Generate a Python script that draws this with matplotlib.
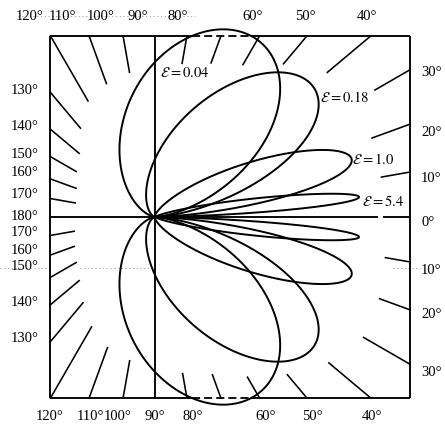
import numpy as np
import matplotlib.pyplot as plt

plt.rcParams['font.family'] = ['Liberation Serif', 'DejaVu Serif']
plt.rcParams['mathtext.fontset'] = 'stix'

# electron energies and the direction of maximum emission of each lobe (deg)
energies = ['0.04', '0.18', '1.0', '5.4']
peak_deg = [62.0, 40.0, 16.5, 5.6]
lobe_reach = 205.0

# frame around the pattern, origin where the 0 and 90 degree lines cross
left, right, bottom, top = -105, 255, -181, 181

# radial tick marks: direction and the radius where each mark starts
tick_angles = [120, 110, 100, 80, 70, 60, 50, 40, 30, 20, 10, -10, -20, -30,
               -40, -50, -60, -70, -80, -100, -110, -120, -130, -140, -150,
               -160, -170, 170, 160, 150, 140, 130]
tick_inner = [134, 142, 147, 156, 164, 176, 200, 225, 254, 231, 230, 234, 239, 241,
              227, 206, 185, 168, 159, 146, 139, 127, 112, 99, 91,
              86, 82, 81, 84, 91, 99, 116]

top_labels = ['120°', '110°', '100°', '90°', '80°', '60°', '50°', '40°']
top_x = [30, 62, 101, 138, 178, 253, 305, 367]
bottom_labels = ['120°', '110°', '100°', '90°', '80°', '60°', '50°', '40°']
bottom_x = [50, 90, 118, 155, 193, 266, 312, 372]
left_labels = ['130°', '140°', '150°', '160°', '170°', '180°', '170°', '160°',
               '150°', '140°', '130°']
left_y = [90, 127, 155, 172, 195, 216, 233, 250, 267, 303, 338]
right_labels = ['30°', '20°', '10°', '0°', '10°', '20°', '30°']
right_y = [72, 132, 178, 222, 270, 315, 373]
energy_pos = [(160, 73), (320, 98), (352, 160), (362, 201)]


def to_data(px, py):
    return px - 155, 217 - py


def lobe(peak):
    # sin^2 / (1 - beta cos)^4 pattern, beta chosen so the maximum sits at `peak`
    c = np.cos(np.radians(peak))
    beta = c / (2 - c * c)
    th = np.linspace(0, np.pi, 1500)
    f = np.sin(th) ** 2 / (1 - beta * np.cos(th)) ** 4
    r = lobe_reach * f / f.max()
    return r * np.cos(th), r * np.sin(th)


fig = plt.figure(figsize=(4.45, 4.25), dpi=100)
ax = fig.add_axes([0, 0, 1, 1])
ax.set_xlim(-155, 290)
ax.set_ylim(-208, 217)
ax.axis('off')

k = dict(color='black', lw=1.35, solid_capstyle='butt')

lobes = [lobe(p) for p in peak_deg]
for x, y in lobes:
    ax.plot(x, y, color='black', lw=1.4)
    ax.plot(x, -y, color='black', lw=1.4)

# the widest lobe pokes through the top and bottom edges; dash the edge there
x0, y0 = lobes[0]
out = x0[y0 > top]
xa, xb = out.min(), out.max()
for edge in (top, bottom):
    ax.plot([left, xa], [edge, edge], **k)
    ax.plot([xa, xb], [edge, edge], color='black', lw=1.3, dashes=(4.5, 2.2))
    ax.plot([xb, right], [edge, edge], **k)
ax.plot([left, left], [bottom, top], **k)
ax.plot([right, right], [bottom, top], **k)

# axis lines through the origin
ax.plot([0, 0], [bottom, top], **k)
ax.plot([left, 223], [0, 0], **k)
ax.plot([228, right], [0, 0], **k)

for a, r0 in zip(tick_angles, tick_inner):
    d = np.array([np.cos(np.radians(a)), np.sin(np.radians(a))])
    ts = []
    for lim, comp in ((right, d[0]), (left, d[0]), (top, d[1]), (bottom, d[1])):
        if abs(comp) > 1e-9 and lim / comp > 0:
            ts.append(lim / comp)
    t = min(ts)
    ax.plot([r0 * d[0], t * d[0]], [r0 * d[1], t * d[1]], color='black', lw=1.15)

fs = 10.5
for s, px in zip(top_labels, top_x):
    ax.text(*to_data(px, 16), s, ha='center', va='center', fontsize=fs)
for s, px in zip(bottom_labels, bottom_x):
    ax.text(*to_data(px, 416), s, ha='center', va='center', fontsize=fs)
for s, py in zip(left_labels, left_y):
    ax.text(*to_data(25, py), s, ha='center', va='center', fontsize=fs)
for s, py in zip(right_labels, right_y):
    ax.text(*to_data(421, py), s, ha='left', va='center', fontsize=fs)

for e, (px, py) in zip(energies, energy_pos):
    ax.text(*to_data(px, py), r'$\mathcal{E}=' + e + '$', ha='left', va='center',
            fontsize=10.5)

# faint dotted rules running through some of the labels
for xs, py in (((18, 195), 16), ((0, 50), 268), ((80, 150), 268), ((393, 420), 268)):
    (xa_, ya_), (xb_, yb_) = to_data(xs[0], py), to_data(xs[1], py)
    ax.plot([xa_, xb_], [ya_, yb_], color='0.6', lw=0.6, dashes=(1.5, 3), zorder=0)

fig.savefig('out.png', dpi=100, facecolor='white')
